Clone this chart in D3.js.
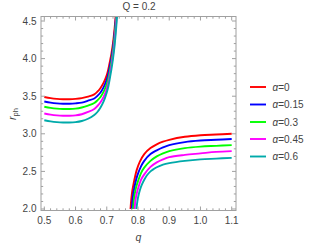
<!DOCTYPE html>
<html><head><meta charset="utf-8">
<script src="https://cdn.jsdelivr.net/npm/d3@7"></script>
<style>body{margin:0;background:#fff}svg{display:block}text{font-family:"Liberation Sans",Arial,sans-serif}</style>
</head><body><div id="c"></div>
<script>
const title = "Q = 0.2";
const seriesNames = ["α=0","α=0.15","α=0.3","α=0.45","α=0.6"];
const colors = ["#ff0000","#0000ff","#00ff00","#ff00ff","#00aaaa"];
const xTicks = [0.5,0.6,0.7,0.8,0.9,1.0,1.1];
const yTicks = [2.0,2.5,3.0,3.5,4.0,4.5];

// left branch (common q grid)
const qLeft = [0.50,0.52,0.54,0.56,0.58,0.60,0.62,0.64,0.66,0.67,0.68,0.69,0.70,0.705,0.71,0.715,0.72,0.725,0.73,0.735];
const leftA0   = [3.49,3.475,3.465,3.46,3.46,3.465,3.475,3.495,3.525,3.56,3.61,3.68,3.78,3.86,3.96,4.07,4.21,4.40,4.65,5.0];
const leftA015 = [3.43,3.415,3.405,3.40,3.40,3.405,3.415,3.44,3.47,3.505,3.55,3.62,3.72,3.80,3.90,4.01,4.15,4.34,4.58,4.9];
const leftA03  = [3.36,3.345,3.335,3.33,3.33,3.335,3.35,3.375,3.41,3.445,3.49,3.56,3.66,3.74,3.84,3.96,4.10,4.29,4.53,4.82];
const leftA045 = [3.27,3.255,3.245,3.24,3.24,3.245,3.26,3.29,3.33,3.37,3.42,3.49,3.60,3.68,3.79,3.91,4.05,4.23,4.47,4.75];
const leftA06  = [3.18,3.165,3.155,3.15,3.15,3.155,3.17,3.20,3.25,3.29,3.35,3.43,3.55,3.63,3.74,3.86,4.00,4.17,4.40,4.68];

// right branch ([q, r] pairs per series)
const rightA0   = [[0.776,2.0],[0.779,2.15],[0.782,2.25],[0.786,2.34],[0.79,2.42],[0.796,2.52],[0.806,2.63],[0.82,2.73],[0.84,2.81],[0.86,2.86],[0.88,2.895],[0.9,2.92],[0.95,2.96],[1.0,2.98],[1.05,2.99],[1.1,3.0]];
const rightA015 = [[0.780,2.0],[0.783,2.14],[0.786,2.23],[0.79,2.32],[0.794,2.39],[0.80,2.47],[0.81,2.57],[0.82,2.64],[0.84,2.73],[0.86,2.78],[0.88,2.82],[0.9,2.85],[0.95,2.89],[1.0,2.91],[1.05,2.92],[1.1,2.93]];
const rightA03  = [[0.784,2.0],[0.787,2.13],[0.79,2.21],[0.794,2.29],[0.80,2.37],[0.81,2.48],[0.82,2.55],[0.84,2.64],[0.86,2.70],[0.88,2.74],[0.9,2.77],[0.95,2.81],[1.0,2.83],[1.05,2.84],[1.1,2.85]];
const rightA045 = [[0.789,2.0],[0.792,2.12],[0.795,2.19],[0.80,2.27],[0.81,2.39],[0.82,2.46],[0.84,2.56],[0.86,2.62],[0.88,2.66],[0.9,2.69],[0.95,2.72],[1.0,2.74],[1.05,2.76],[1.1,2.77]];
const rightA06  = [[0.795,2.0],[0.798,2.1],[0.801,2.17],[0.806,2.25],[0.812,2.32],[0.82,2.39],[0.83,2.455],[0.84,2.50],[0.85,2.53],[0.86,2.555],[0.88,2.59],[0.9,2.61],[0.95,2.64],[1.0,2.66],[1.05,2.67],[1.1,2.68]];

const lefts = [leftA0,leftA015,leftA03,leftA045,leftA06];
const rights = [rightA0,rightA015,rightA03,rightA045,rightA06];

const W=311,H=245;
const L=41,R=236,T=16.5,B=210.5;
const x = d3.scaleLinear().domain([0.4894,1.1138]).range([L,R]);
const y = d3.scaleLinear().domain([1.98,4.56]).range([B,T]);

const svg = d3.select("#c").append("svg").attr("width",W).attr("height",H);
svg.append("defs").append("clipPath").attr("id","clip")
  .append("rect").attr("x",L).attr("y",T).attr("width",R-L).attr("height",B-T);

const line = d3.line().x(d=>x(d[0])).y(d=>y(d[1])).curve(d3.curveCatmullRom.alpha(0.5));
const g = svg.append("g").attr("clip-path","url(#clip)");
lefts.forEach((vals,i)=>{
  g.append("path").datum(qLeft.map((q,j)=>[q,vals[j]]))
   .attr("d",line).attr("fill","none").attr("stroke",colors[i]).attr("stroke-width",1.9);
});
rights.forEach((pts,i)=>{
  g.append("path").datum(pts)
   .attr("d",line).attr("fill","none").attr("stroke",colors[i]).attr("stroke-width",1.9);
});

// frame
const fc="#a0a0a0";
svg.append("rect").attr("x",L).attr("y",T).attr("width",R-L).attr("height",B-T)
  .attr("fill","none").attr("stroke",fc).attr("stroke-width",1);

const ax = svg.append("g");
d3.range(0.5,1.1001,0.02).forEach(v=>{
  const major = xTicks.some(t=>Math.abs(t-v)<1e-6);
  const len = major?4:2.2;
  const px=x(v);
  ax.append("line").attr("x1",px).attr("x2",px).attr("y1",B).attr("y2",B-len).attr("stroke",fc);
  ax.append("line").attr("x1",px).attr("x2",px).attr("y1",T).attr("y2",T+len).attr("stroke",fc);
});
d3.range(2.0,4.5001,0.1).forEach(v=>{
  const major = yTicks.some(t=>Math.abs(t-v)<1e-6);
  const len = major?4:2.2;
  const py=y(v);
  ax.append("line").attr("y1",py).attr("y2",py).attr("x1",L).attr("x2",L+len).attr("stroke",fc);
  ax.append("line").attr("y1",py).attr("y2",py).attr("x1",R).attr("x2",R-len).attr("stroke",fc);
});
const tc="#444";
xTicks.forEach(v=>{
  ax.append("text").attr("x",x(v)).attr("y",224).attr("text-anchor","middle")
    .attr("font-size",10).attr("fill",tc).text(v.toFixed(1));
});
yTicks.forEach(v=>{
  ax.append("text").attr("x",36.5).attr("y",y(v)+3.5).attr("text-anchor","end")
    .attr("font-size",10).attr("fill",tc).text(v.toFixed(1));
});

svg.append("text").attr("x",138.5).attr("y",241).attr("text-anchor","middle")
  .attr("font-size",10.5).attr("font-style","italic").attr("fill",tc).text("q");
const yl = svg.append("text").attr("transform","translate(16,114) rotate(-90)")
  .attr("text-anchor","middle").attr("font-size",10.5).attr("fill",tc);
yl.append("tspan").attr("font-style","italic").text("r");
yl.append("tspan").attr("font-size",7.5).attr("dy",2).text("ph");

svg.append("text").attr("x",139).attr("y",10).attr("text-anchor","middle")
  .attr("font-size",10).attr("fill",tc).text(title);

const legY = [87,104.5,122,139,156.5];
seriesNames.forEach((n,i)=>{
  svg.append("line").attr("x1",250).attr("x2",266).attr("y1",legY[i]).attr("y2",legY[i])
    .attr("stroke",colors[i]).attr("stroke-width",1.9);
  const t = svg.append("text").attr("x",272.5).attr("y",legY[i]+3.5)
    .attr("font-size",10).attr("fill",tc);
  t.append("tspan").attr("font-style","italic").text("α");
  t.append("tspan").text(n.slice(1));
});
</script></body></html>
